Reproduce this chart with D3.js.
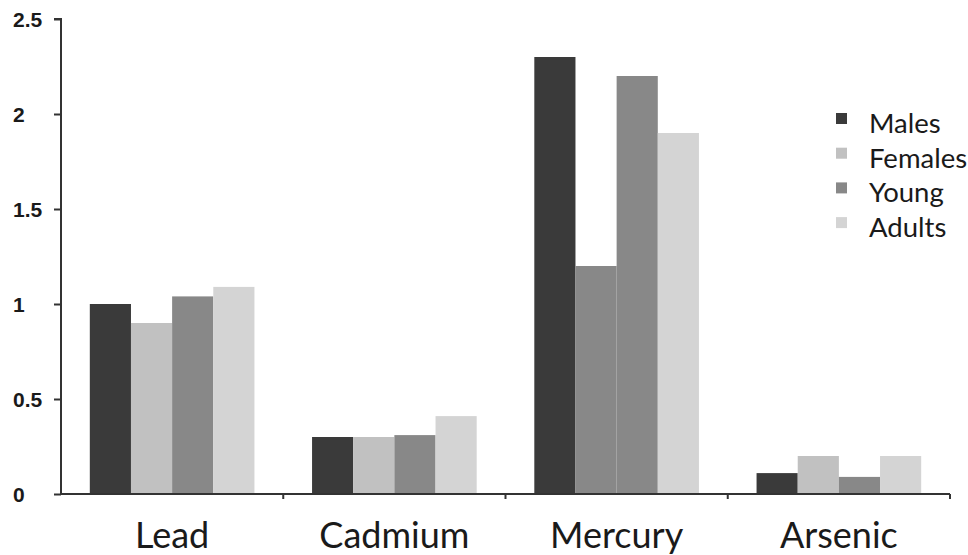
<!DOCTYPE html>
<html>
<head>
<meta charset="utf-8">
<script src="https://cdn.jsdelivr.net/npm/d3@7"></script>
<style>
html,body{margin:0;padding:0;background:#fff;}
svg{display:block;}
</style>
</head>
<body>
<svg id="chart" width="968" height="555"></svg>
<script>
const categories = ["Lead", "Cadmium", "Mercury", "Arsenic"];
const seriesNames = ["Males", "Females", "Young", "Adults"];
const males   = [1.00, 0.30, 2.30, 0.11];
const females = [0.90, 0.30, 1.20, 0.20];
const young   = [1.04, 0.31, 2.20, 0.09];
const adults  = [1.09, 0.41, 1.90, 0.20];
const yTicks = [0, 0.5, 1, 1.5, 2, 2.5];
const yTickLabels = ["0", "0.5", "1", "1.5", "2", "2.5"];

const seriesValues = [males, females, young, adults];
const colors = ["#3a3a3a", "#c1c1c1", "#888888", "#d4d4d4"];

const svg = d3.select("#chart");
const mLeft = 61, mRight = 950, mTop = 19, mBottom = 494;

const x = d3.scaleBand().domain(categories).range([mLeft, mRight]).paddingInner(0).paddingOuter(0);
const xs = d3.scaleBand().domain(seriesNames).range([0, x.bandwidth()]).paddingInner(0).paddingOuter(0.7);
const y = d3.scaleLinear().domain([0, 2.5]).range([mBottom, mTop]);

// bars
const data = [];
categories.forEach((c, i) => seriesNames.forEach((s, j) => data.push({cat: c, ser: s, si: j, v: seriesValues[j][i]})));
svg.append("g").selectAll("rect").data(data).join("rect")
  .attr("x", d => x(d.cat) + xs(d.ser))
  .attr("width", xs.bandwidth())
  .attr("y", d => y(d.v))
  .attr("height", d => y(0) - y(d.v))
  .attr("fill", d => (d.cat === "Mercury" && d.ser === "Females") ? colors[2] : colors[d.si]);

// y axis
const yAxis = svg.append("g").attr("transform", `translate(${mLeft},0)`)
  .call(d3.axisLeft(y).tickValues(yTicks).tickSize(7).tickFormat((d, i) => yTickLabels[i]));
yAxis.select(".domain").attr("stroke", "#333").attr("stroke-width", 2).attr("d", `M-7,${mTop}H0V${mBottom}`);
yAxis.selectAll(".tick line").attr("stroke", "#333").attr("stroke-width", 2);
yAxis.selectAll(".tick text")
  .attr("x", -48).attr("text-anchor", "start").attr("dy", "0.35em")
  .attr("font-family", "'Liberation Sans', Arial, sans-serif")
  .attr("font-weight", "bold").attr("font-size", 21).attr("fill", "#1a1a1a");

// x axis
const xAxis = svg.append("g").attr("transform", `translate(0,${mBottom})`)
  .call(d3.axisBottom(x).tickSize(0).tickFormat(""));
xAxis.select(".domain").attr("stroke", "#333").attr("stroke-width", 2).attr("d", `M${mLeft},0H${mRight}`);
xAxis.selectAll(".tick line").remove();
const bounds = categories.map(c => x(c) + x.bandwidth());
xAxis.selectAll("line.sep").data(bounds).join("line").attr("class", "sep")
  .attr("x1", d => d).attr("x2", d => d).attr("y1", 0).attr("y2", 5)
  .attr("stroke", "#333").attr("stroke-width", 2);

// category labels
svg.append("g").selectAll("text").data(categories).join("text")
  .attr("x", d => x(d) + x.bandwidth() / 2)
  .attr("y", 548)
  .attr("text-anchor", "middle")
  .attr("font-family", "Lato, 'Open Sans', sans-serif")
  .attr("font-size", 36).attr("fill", "#1a1a1a")
  .text(d => d);

// legend
const lg = svg.append("g").attr("transform", "translate(836,133)");
const items = lg.selectAll("g").data(seriesNames).join("g")
  .attr("transform", (d, i) => `translate(0,${i * 34.7})`);
items.append("rect").attr("x", 0).attr("y", -20).attr("width", 11).attr("height", 11)
  .attr("fill", (d, i) => colors[i]);
items.append("text").attr("x", 33).attr("y", 0)
  .attr("font-family", "Lato, 'Open Sans', sans-serif")
  .attr("font-size", 27.5).attr("fill", "#1a1a1a")
  .text(d => d);
</script>
</body>
</html>
